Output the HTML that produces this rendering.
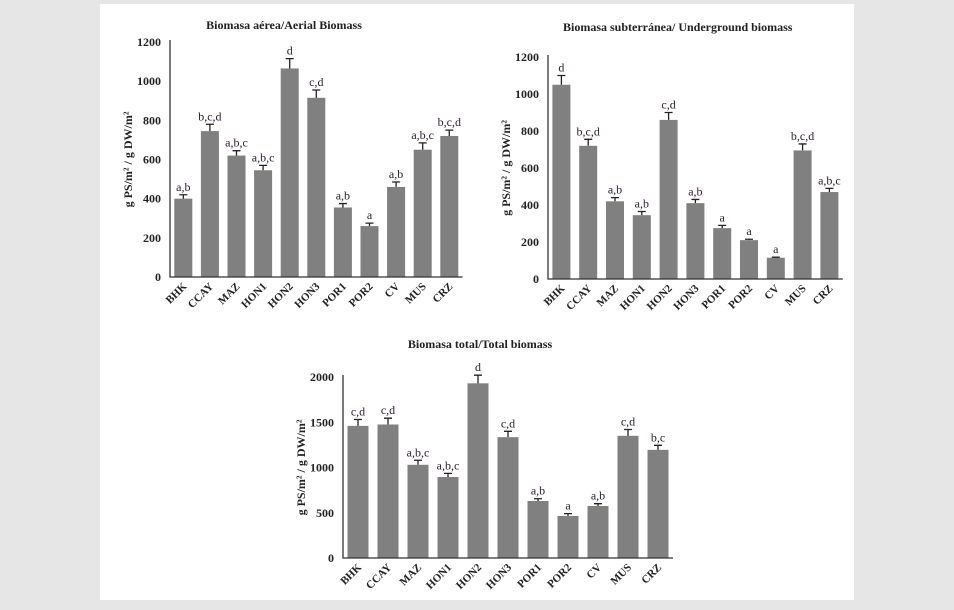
<!DOCTYPE html>
<html><head><meta charset="utf-8"><style>
body{margin:0;background:#e6e6e6;}
svg{display:block;font-family:"Liberation Serif",serif;}
</style></head><body>
<svg id="s" width="954" height="610">
<rect x="0" y="0" width="954" height="610" fill="#e6e6e6"/>
<rect x="100" y="4" width="754" height="596" fill="#fff"/>
</svg>
<script>
const categories=["BHK","CCAY","MAZ","HON1","HON2","HON3","POR1","POR2","CV","MUS","CRZ"];
const aerialValues=[400,745,620,545,1065,915,355,260,460,650,720];
const aerialErrors=[20,35,25,25,50,40,20,15,25,35,30];
const aerialLetters=["a,b","b,c,d","a,b,c","a,b,c","d","c,d","a,b","a","a,b","a,b,c","b,c,d"];
const aerialTicks=[0,200,400,600,800,1000,1200];
const underValues=[1050,720,420,345,860,410,275,210,115,695,470];
const underErrors=[50,35,20,20,40,20,15,5,3,35,20];
const underLetters=["d","b,c,d","a,b","a,b","c,d","a,b","a","a","a","b,c,d","a,b,c"];
const underTicks=[0,200,400,600,800,1000,1200];
const totalValues=[1460,1475,1030,895,1930,1335,630,465,575,1350,1195];
const totalErrors=[70,70,50,40,90,65,25,25,25,70,50];
const totalLetters=["c,d","c,d","a,b,c","a,b,c","d","c,d","a,b","a","a,b","c,d","b,c"];
const totalTicks=[0,500,1000,1500,2000];

const NS="http://www.w3.org/2000/svg";
const svg=document.getElementById('s');
function mk(tag,attrs,parent,text){const e=document.createElementNS(NS,tag);for(const k in attrs)e.setAttribute(k,attrs[k]);if(text!==undefined)e.textContent=text;parent.appendChild(e);return e;}

function chart(cfg,vals,errs,letters,ticks){
  const g=mk('g',{},svg);
  
  
  const y=v=>cfg.y0-(v/cfg.max)*(cfg.y0-cfg.yTop);
  const x=i=>cfg.x0+cfg.step*(i+0.5);
  const t=mk('text',{x:cfg.tx,y:cfg.ty,'font-size':12,'font-weight':'bold','text-anchor':cfg.ta,fill:'#222'},g,cfg.title);
  
  
  const yt=mk('text',{transform:`translate(${cfg.x0-38},${(cfg.y0+cfg.yTop)/2}) rotate(-90)`,'font-size':12,'font-weight':'bold','text-anchor':'middle',fill:'#222'},g,'g PS/m² / g DW/m²');
  
  
  ticks.forEach(v=>{
    const tl=mk('text',{x:cfg.x0-9,y:y(v)+4,'font-size':12,'font-weight':'bold','text-anchor':'end',fill:'#222'},g,String(v));
    
    
  });
  vals.forEach((v,i)=>{
    const cx=x(i),bw=cfg.bw;
    const b=mk('rect',{x:cx-bw/2,y:y(v),width:bw,height:cfg.y0-y(v),fill:'#808080'},g);
    
    
    const ye=y(v+errs[i]);
    const e=mk('path',{d:`M${cx},${y(v)} V${ye} M${cx-4},${ye} H${cx+4}`,stroke:'#222','stroke-width':1.3,fill:'none'},g);
    
    
    const l=mk('text',{x:cx,y:ye-4,'font-size':12,'text-anchor':'middle',fill:'#2a2030'},g,letters[i]);
    
    
    const xl=mk('text',{transform:`translate(${cx+4},${cfg.y0+10}) rotate(-45)`,'font-size':11,'font-weight':'bold','text-anchor':'end',fill:'#222'},g,categories[i]);
    
    
  });
  const ax=mk('path',{d:`M${cfg.x0},${cfg.yTop-2} V${cfg.y0} H${cfg.x0+cfg.step*11}`,stroke:'#333','stroke-width':1.3,fill:'none'},g);
  
  
}
chart({name:'aerial-biomass-chart',x0:170,step:26.6,bw:18,y0:277,yTop:42,max:1200,title:'Biomasa aérea/Aerial Biomass',tx:284,ty:29,ta:'middle'},aerialValues,aerialErrors,aerialLetters,aerialTicks);
chart({name:'underground-biomass-chart',x0:548,step:26.8,bw:18,y0:279,yTop:57,max:1200,title:'Biomasa subterránea/ Underground  biomass',tx:563,ty:31,ta:'start'},underValues,underErrors,underLetters,underTicks);
chart({name:'total-biomass-chart',x0:343,step:30,bw:21,y0:558,yTop:377,max:2000,title:'Biomasa total/Total biomass',tx:480,ty:348,ta:'middle'},totalValues,totalErrors,totalLetters,totalTicks);
</script>
</body></html>
